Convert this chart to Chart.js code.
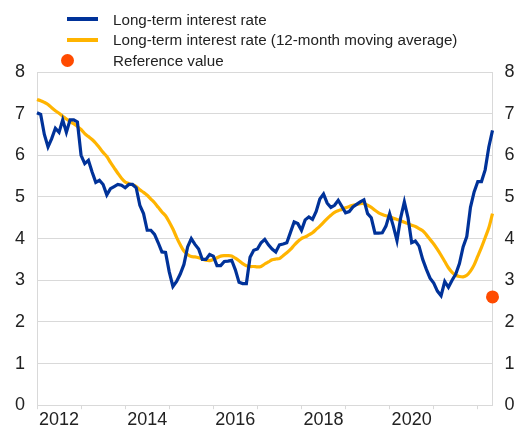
<!DOCTYPE html>
<html>
<head>
<meta charset="utf-8">
<script src="https://cdn.jsdelivr.net/npm/chart.js@4"></script>
<style>
  body { margin: 0; background: #fff; font-family: "Liberation Sans", Arial, sans-serif; }
  #contenedor { position: relative; width: 517px; height: 428px; }
  #leyenda { position: absolute; left: 60px; top: 9px; font-size: 15.2px; color: #222; }
  .fila { display: flex; align-items: center; height: 20.5px; }
  .marca { width: 53px; position: relative; height: 20px; }
  .marca .linea { position: absolute; left: 7px; top: 8px; width: 31px; height: 4px; }
  .marca .punto { position: absolute; left: 1px; top: 3.5px; width: 13px; height: 13px; border-radius: 50%; }
</style>
</head>
<body>
<div id="contenedor">
  <canvas id="graficaTasas"></canvas>
  <div id="leyenda"></div>
</div>
<script>
// Datos mensuales, enero 2012 en adelante
const anioInicio = 2012;

const tasaLargoPlazo = [
  7.02, 6.98, 6.5, 6.2, 6.4, 6.65, 6.55, 6.85, 6.55, 6.85, 6.85, 6.8,
  6.0, 5.8, 5.88, 5.6, 5.35, 5.4, 5.3, 5.05, 5.2, 5.25, 5.3, 5.28,
  5.22, 5.3, 5.3, 5.22, 4.8, 4.6, 4.2, 4.2, 4.1, 3.9, 3.68, 3.67,
  3.2, 2.85, 2.97, 3.15, 3.38, 3.8, 4.0, 3.86, 3.75, 3.5, 3.5, 3.62,
  3.58, 3.35, 3.35, 3.45, 3.46, 3.48, 3.25, 2.95, 2.92, 2.92, 3.55, 3.72,
  3.75, 3.9, 3.98, 3.85, 3.75, 3.68, 3.85, 3.87, 3.9, 4.15, 4.4, 4.36,
  4.2, 4.45, 4.52, 4.46, 4.65, 4.95, 5.07, 4.85, 4.75, 4.8, 4.92, 4.77,
  4.62, 4.65, 4.76, 4.82, 4.88, 4.93, 4.6, 4.5, 4.13, 4.13, 4.14, 4.3,
  4.6, 4.3, 3.95, 4.5, 4.88, 4.5, 3.9, 3.94, 3.82, 3.5, 3.26, 3.05,
  2.93, 2.74, 2.63, 2.97, 2.83, 3.0, 3.15, 3.4, 3.8, 4.05, 4.75, 5.12,
  5.37, 5.37, 5.65, 6.2, 6.6
];

const mediaMovil12 = [
  7.34, 7.31, 7.27, 7.22, 7.14, 7.07, 7.01, 6.94, 6.87, 6.81, 6.76, 6.69,
  6.62, 6.52, 6.45, 6.38, 6.29, 6.18, 6.07, 5.97, 5.83, 5.70, 5.57, 5.45,
  5.36, 5.32, 5.29, 5.25, 5.17, 5.11, 5.04, 4.95, 4.86, 4.75, 4.64, 4.55,
  4.40, 4.23, 4.03, 3.85, 3.70, 3.62, 3.57, 3.56, 3.54, 3.51, 3.48, 3.47,
  3.50, 3.54, 3.58, 3.59, 3.59, 3.58, 3.53, 3.47, 3.40, 3.35, 3.33, 3.33,
  3.32, 3.33, 3.39, 3.44, 3.49, 3.51, 3.52, 3.59, 3.66, 3.74, 3.84, 3.93,
  4.00, 4.04, 4.09, 4.14, 4.22, 4.30, 4.39, 4.48, 4.56, 4.63, 4.67, 4.70,
  4.74, 4.77, 4.80, 4.82, 4.84, 4.84, 4.80, 4.75, 4.68, 4.62, 4.58, 4.55,
  4.53, 4.49, 4.46, 4.43, 4.39, 4.36, 4.32, 4.29, 4.24, 4.19, 4.09, 3.98,
  3.87, 3.74, 3.60, 3.45, 3.30, 3.19, 3.12, 3.09, 3.08, 3.12, 3.22, 3.37,
  3.58, 3.79, 4.02, 4.26, 4.60
];

const valorReferencia = 2.6;

const etiquetasY = [0, 1, 2, 3, 4, 5, 6, 7, 8];

// Etiquetas de meses (categorias)
const meses = tasaLargoPlazo.map((_, i) => {
  const anio = anioInicio + Math.floor(i / 12);
  const mes = (i % 12) + 1;
  return anio + '-' + String(mes).padStart(2, '0');
});

// Solo el ultimo mes lleva el valor de referencia
const serieReferencia = meses.map((_, i) => i === meses.length - 1 ? valorReferencia : null);

const azul = '#003299';
const amarillo = '#ffb400';
const naranja = '#ff4b00';
const gris = '#d9d9d9';

const fuenteEjes = { family: 'Liberation Sans, Arial, sans-serif', size: 18 };

function ejeY(posicion, ancho) {
  return {
    position: posicion,
    min: 0,
    max: 8,
    afterBuildTicks: eje => { eje.ticks = etiquetasY.map(v => ({ value: v })); },
    afterFit: eje => { eje.width = ancho; },
    grid: { color: gris, lineWidth: 1, drawTicks: false, display: posicion === 'left' },
    border: { display: true, color: gris },
    ticks: { color: '#222', font: fuenteEjes, padding: 12 }
  };
}

const ctx = document.getElementById('graficaTasas').getContext('2d');
const grafica = new Chart(ctx, {
  type: 'line',
  data: {
    labels: meses,
    datasets: [
      {
        label: 'Long-term interest rate',
        data: tasaLargoPlazo,
        borderColor: azul,
        backgroundColor: azul,
        borderWidth: 3.2,
        pointRadius: 0,
        tension: 0,
        order: 1
      },
      {
        label: 'Long-term interest rate (12-month moving average)',
        data: mediaMovil12,
        borderColor: amarillo,
        backgroundColor: amarillo,
        borderWidth: 3.2,
        pointRadius: 0,
        tension: 0.3,
        order: 2
      },
      {
        label: 'Reference value',
        data: serieReferencia,
        showLine: false,
        borderColor: naranja,
        backgroundColor: naranja,
        pointRadius: 6.5,
        pointBorderWidth: 0,
        clip: false,
        order: 0
      }
    ]
  },
  options: {
    responsive: true,
    maintainAspectRatio: false,
    animation: false,
    layout: { padding: { top: 72, left: 0, right: 0, bottom: 0 } },
    plugins: {
      legend: { display: false },
      tooltip: { enabled: false }
    },
    scales: {
      x: {
        afterFit: eje => { eje.height = 22; },
        grid: {
          drawOnChartArea: false,
          tickLength: 4,
          color: c => (c.index % 12 === 0 ? gris : 'transparent')
        },
        border: { display: true, color: gris },
        ticks: {
          autoSkip: false,
          maxRotation: 0,
          color: '#222',
          font: fuenteEjes,
          padding: 0,
          labelOffset: 22,
          callback: function (valor, i) {
            const anio = anioInicio + Math.floor(i / 12);
            return (i % 12 === 0 && (anio - anioInicio) % 2 === 0 && anio < 2022) ? String(anio) : '';
          }
        }
      },
      y: ejeY('left', 37),
      y2: ejeY('right', 24.5)
    }
  }
});

// Leyenda en columna, construida desde los datasets
const leyenda = document.getElementById('leyenda');
grafica.data.datasets.forEach(ds => {
  const fila = document.createElement('div');
  fila.className = 'fila';
  const marca = document.createElement('div');
  marca.className = 'marca';
  const simbolo = document.createElement('div');
  simbolo.className = ds.showLine === false ? 'punto' : 'linea';
  simbolo.style.background = ds.borderColor;
  marca.appendChild(simbolo);
  const texto = document.createElement('span');
  texto.textContent = ds.label;
  fila.appendChild(marca);
  fila.appendChild(texto);
  leyenda.appendChild(fila);
});
</script>
</body>
</html>
